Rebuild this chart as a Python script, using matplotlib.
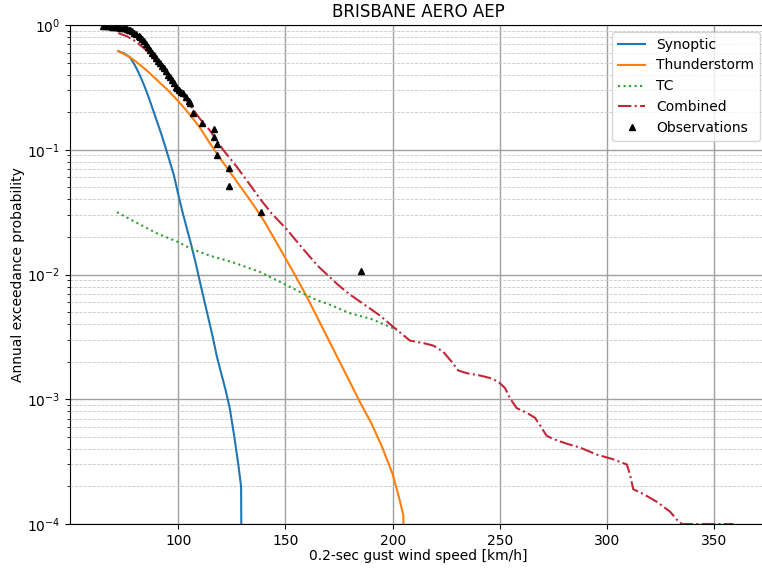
import numpy as np
import matplotlib
matplotlib.use("Agg")
import matplotlib.pyplot as plt

# ---- data ----
syn_v = [72.0, 75.0, 77.5, 80.0, 82.0, 84.0, 86.0, 88.0, 90.0, 92.0, 94.0, 96.0, 98.0, 100.0, 102.0, 104.0,
         106.0, 108.0, 110.0, 112.0, 114.0, 116.0, 118.0, 120.0, 122.0, 124.0, 126.0, 128.0, 129.3, 129.5]
syn_p = [0.617, 0.589, 0.550, 0.468, 0.398, 0.331, 0.269, 0.214, 0.170, 0.135, 0.105, 0.081, 0.062, 0.0437,
         0.0316, 0.0234, 0.0174, 0.0126, 0.0089, 0.0063, 0.0045, 0.0032, 0.0022, 0.00162, 0.0012, 0.00085,
         0.00052, 0.0003, 0.0002, 0.00005]

ts_v = [72.0, 75.0, 77.5, 80.0, 85.0, 90.0, 95.0, 100.0, 105.0, 110.0, 115.0, 120.0, 125.0, 130.0, 135.0,
        140.0, 145.0, 150.0, 155.0, 160.0, 165.0, 170.0, 175.0, 180.0, 185.0, 190.0, 195.0, 200.0, 203.0,
        205.0, 205.2]
ts_p = [0.617, 0.582, 0.550, 0.513, 0.437, 0.363, 0.302, 0.245, 0.195, 0.151, 0.111, 0.0832, 0.0631, 0.0479,
        0.0363, 0.0269, 0.0191, 0.0135, 0.0095, 0.0066, 0.00447, 0.00302, 0.00204, 0.00138, 0.00093,
        0.000646, 0.000417, 0.000251, 0.000162, 0.000117, 0.00005]

tc_v = [71.4, 80.0, 90.0, 100.0, 105.5, 115.0, 125.0, 133.4, 138.0, 150.0, 160.0, 165.0, 170.0, 180.0, 190.0, 198.8, 202.0]
tc_p = [0.0316, 0.0263, 0.0214, 0.0182, 0.0162, 0.0141, 0.0126, 0.0112, 0.0105, 0.0083, 0.0068, 0.0062, 0.0058,
        0.0049, 0.0044, 0.0038, 0.0036]

cb_v = [72.0, 76.0, 80.0, 85.0, 90.0, 95.0, 100.0, 105.0, 110.0, 115.0, 120.9, 127.0, 133.4, 138.0, 143.5,
        150.7, 158.0, 165.0, 170.0, 175.0, 180.0, 185.0, 190.0, 194.1, 200.3, 208.1, 214.3, 219.0, 223.6,
        227.5, 230.6, 234.5, 240.7, 245.4, 249.3, 252.4, 254.7, 257.8, 262.5, 266.4, 268.7, 271.8, 274.9,
        281.2, 287.4, 295.2, 302.9, 309.2, 310.7, 312.2, 316.9, 323.1, 329.3, 333.2, 335.0, 359.0]
cb_p = [0.861, 0.813, 0.741, 0.631, 0.501, 0.398, 0.302, 0.234, 0.178, 0.141, 0.100, 0.0741, 0.0525, 0.0407,
        0.0309, 0.0229, 0.0162, 0.01175, 0.00977, 0.00813, 0.00692, 0.00603, 0.00525, 0.00468, 0.0038,
        0.00295, 0.00282, 0.00269, 0.0024, 0.0020, 0.0017, 0.00162, 0.00155, 0.00148, 0.00138, 0.00123,
        0.00102, 0.00085, 0.00078, 0.00071, 0.00062, 0.00051, 0.00048, 0.00044, 0.00041, 0.00036, 0.00033,
        0.0003, 0.00025, 0.00019, 0.000174, 0.000151, 0.000126, 0.000105, 0.0001, 0.0001]

obs_v = [64.9, 66.0, 67.0, 68.0, 69.0, 70.0, 71.0, 72.0, 73.0, 74.0, 75.0, 76.0, 77.0, 77.5, 78.5, 79.5,
         80.5, 81.5, 82.2, 83.0, 84.0, 85.0, 86.0, 86.8, 87.8, 88.8, 89.8, 90.6, 91.5, 92.5, 93.5, 94.5,
         95.3, 96.1, 97.0, 98.0, 99.0, 99.4, 100.5, 101.5, 102.2, 103.5, 105.0, 105.5, 106.9, 111.1,
         116.7, 116.7, 118.1, 118.1, 123.7, 123.7, 138.6, 185.2]
obs_p = [0.99, 0.985, 0.98, 0.975, 0.97, 0.965, 0.96, 0.955, 0.95, 0.945, 0.94, 0.93, 0.92, 0.91, 0.89, 0.87,
         0.85, 0.82, 0.80, 0.77, 0.74, 0.71, 0.67, 0.63, 0.60, 0.57, 0.54, 0.51, 0.495, 0.47, 0.45, 0.43,
         0.40, 0.383, 0.36, 0.34, 0.32, 0.31, 0.30, 0.29, 0.285, 0.265, 0.245, 0.237, 0.197, 0.164,
         0.147, 0.126, 0.111, 0.091, 0.071, 0.051, 0.0316, 0.0107]

fig = plt.figure(figsize=(7.62, 5.69), dpi=100)
ax = fig.add_axes([70/762, 1 - 524/569, 697/762, (524 - 25)/569])

ax.plot(syn_v, syn_p, color="#1f77b4", lw=1.5, label="Synoptic")
ax.plot(ts_v, ts_p, color="#ff7f0e", lw=1.5, label="Thunderstorm")
ax.plot(tc_v, tc_p, color="#2ca02c", lw=1.5, ls=":", label="TC")
ax.plot(cb_v, cb_p, color="#c0283a", lw=1.5, ls="-.", label="Combined")
ax.plot(obs_v, obs_p, ls="none", marker="^", color="black", ms=5, label="Observations")

ax.set_yscale("log")
ax.set_ylim(1e-4, 1)
ax.set_xlim(49.5, 374.6)
ax.set_xticks([100, 150, 200, 250, 300, 350])

ax.grid(True, which="major", color="#a0a0a0", lw=1.0)
ax.grid(True, which="minor", axis="y", color="#c8c8c8", lw=0.6, ls="--")
ax.set_axisbelow(True)

ax.set_title("BRISBANE AERO AEP", fontsize=12)
ax.set_xlabel("0.2-sec gust wind speed [km/h]", fontsize=10, labelpad=1)
ax.set_ylabel("Annual exceedance probability", fontsize=10, labelpad=1)
ax.tick_params(labelsize=10)
ax.legend(loc="upper right", fontsize=10)

fig.savefig("out.png", dpi=100)
